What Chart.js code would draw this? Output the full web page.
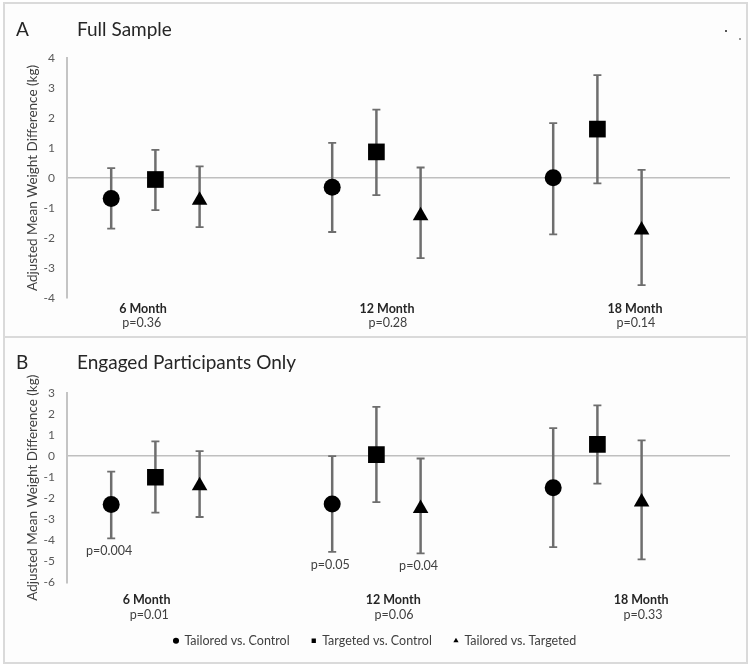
<!DOCTYPE html>
<html>
<head>
<meta charset="utf-8">
<script src="https://cdn.jsdelivr.net/npm/chart.js@4/dist/chart.umd.min.js"></script>
<style>
  html, body { margin: 0; padding: 0; background: #ffffff; }
  body { width: 750px; height: 665px; position: relative; overflow: hidden; font-family: Lato, "Open Sans", sans-serif; }
  .panel { position: absolute; left: 3px; width: 741px; border: 2px solid #dadada; background: #fdfdfd; box-sizing: content-box; }
  .ttl { position: absolute; font-size: 19px; color: #262626; line-height: 1; white-space: nowrap; }
  .dot { position: absolute; width: 2px; height: 2px; }
  canvas { position: absolute; left: 0; }
</style>
</head>
<body>
<div class="panel" style="top:2px;height:334px;"></div>
<div class="panel" style="top:336px;height:324px;"></div>
<div class="dot" style="left:725px;top:30px;background:#555;"></div>
<div class="dot" style="left:739px;top:38px;background:#999;"></div>
<canvas id="chartA" width="750" height="338" style="top:0px"></canvas>
<canvas id="chartB" width="750" height="327" style="top:338px"></canvas>
<div class="ttl" style="left:16px;top:19px;">A</div>
<div class="ttl" style="left:77px;top:19px;">Full Sample</div>
<div class="ttl" style="left:16px;top:352px;">B</div>
<div class="ttl" style="left:77px;top:352px;">Engaged Participants Only</div>
<script>
// ---------- data ----------
const categories = ['6 Month', '12 Month', '18 Month'];
const seriesNames = ['Tailored vs. Control', 'Targeted vs. Control', 'Tailored vs. Targeted'];

// Panel A: Full Sample
const pValuesA = ['p=0.36', 'p=0.28', 'p=0.14'];
const tailoredControlA      = [-0.68, -0.31, 0.01];
const tailoredControlA_lo   = [-1.69, -1.80, -1.88];
const tailoredControlA_hi   = [0.33, 1.17, 1.83];
const targetedControlA      = [-0.05, 0.87, 1.63];
const targetedControlA_lo   = [-1.07, -0.57, -0.18];
const targetedControlA_hi   = [0.94, 2.28, 3.43];
const tailoredTargetedA     = [-0.74, -1.26, -1.73];
const tailoredTargetedA_lo  = [-1.64, -2.67, -3.57];
const tailoredTargetedA_hi  = [0.39, 0.35, 0.27];

// Panel B: Engaged Participants Only
const pValuesB = ['p=0.01', 'p=0.06', 'p=0.33'];
const tailoredControlB      = [-2.30, -2.27, -1.50];
const tailoredControlB_lo   = [-3.90, -4.55, -4.32];
const tailoredControlB_hi   = [-0.73, 0.00, 1.33];
const targetedControlB      = [-1.00, 0.07, 0.56];
const targetedControlB_lo   = [-2.68, -2.18, -1.30];
const targetedControlB_hi   = [0.70, 2.34, 2.41];
const tailoredTargetedB     = [-1.41, -2.48, -2.18];
const tailoredTargetedB_lo  = [-2.89, -4.62, -4.90];
const tailoredTargetedB_hi  = [0.24, -0.11, 0.75];
// significant comparisons in panel B: [series index, category index, text]
const pointNotesB = [[0, 0, 'p=0.004'], [0, 1, 'p=0.05'], [2, 1, 'p=0.04']];

// y-axis tick ranges
const yTicksA = { min: -4, max: 4, step: 1 };
const yTicksB = { min: -6, max: 3, step: 1 };

// ---------- layout (positions in x-scale units) ----------
const catLabelXA = [1.72, 7.24, 12.85];
const pLabelXA   = [1.69, 7.26, 12.87];
const catLabelXB = [1.80, 7.38, 12.99];
const pLabelXB   = [1.86, 7.40, 13.03];

const FONT = 'Lato, "Open Sans", sans-serif';
const styles = [
  { pointStyle: 'circle',   radius: 8.5 },
  { pointStyle: 'rect',     radius: 11.8 },
  { pointStyle: 'triangle', radius: 9 }
];

function groupX(ci, si) { return 1 + 5 * ci + si; }

function buildDatasets(vals, los, his) {
  return vals.map((arr, si) => ({
    label: seriesNames[si],
    data: arr.map((v, ci) => ({ x: groupX(ci, si), y: v, lo: los[si][ci], hi: his[si][ci] })),
    showLine: false,
    pointStyle: styles[si].pointStyle,
    pointRadius: styles[si].radius,
    pointHoverRadius: styles[si].radius,
    backgroundColor: '#000000',
    borderColor: '#000000',
    borderWidth: 0
  }));
}

const errorBarPlugin = {
  id: 'errorBars',
  beforeDatasetsDraw(chart) {
    const { ctx, scales: { x, y } } = chart;
    ctx.save();
    ctx.strokeStyle = '#6e6e6e';
    chart.data.datasets.forEach(ds => {
      ds.data.forEach(pt => {
        const px = x.getPixelForValue(pt.x);
        const yl = y.getPixelForValue(pt.lo);
        const yh = y.getPixelForValue(pt.hi);
        ctx.lineWidth = 2.5;
        ctx.beginPath(); ctx.moveTo(px, yl); ctx.lineTo(px, yh); ctx.stroke();
        ctx.lineWidth = 1.8;
        ctx.beginPath();
        ctx.moveTo(px - 4, yl); ctx.lineTo(px + 4, yl);
        ctx.moveTo(px - 4, yh); ctx.lineTo(px + 4, yh);
        ctx.stroke();
      });
    });
    ctx.restore();
  }
};

function labelPlugin(catX, pX, pVals, catDy, pDy, notes) {
  return {
    id: 'catLabels',
    afterDraw(chart) {
      const { ctx, scales: { x, y }, chartArea } = chart;
      ctx.save();
      ctx.textAlign = 'center';
      ctx.textBaseline = 'middle';
      categories.forEach((c, i) => {
        ctx.font = 'bold 12.5px ' + FONT;
        ctx.fillStyle = '#262626';
        ctx.fillText(c, x.getPixelForValue(catX[i]), chartArea.bottom + catDy);
        ctx.font = '12.5px ' + FONT;
        ctx.fillStyle = '#404040';
        ctx.fillText(pVals[i], x.getPixelForValue(pX[i]), chartArea.bottom + pDy);
      });
      (notes || []).forEach(([si, ci, txt]) => {
        const pt = chart.data.datasets[si].data[ci];
        ctx.font = '12.5px ' + FONT;
        ctx.fillStyle = '#404040';
        ctx.fillText(txt, x.getPixelForValue(pt.x) - 2, y.getPixelForValue(pt.lo) + 12.5);
      });
      ctx.restore();
    }
  };
}

function makeOptions(ticks, pad, showLegend, xHeight) {
  return {
    responsive: false,
    animation: false,
    devicePixelRatio: 1,
    layout: { padding: pad },
    plugins: {
      legend: {
        display: showLegend,
        position: 'bottom',
        labels: {
          usePointStyle: true,
          boxWidth: 4.3,
          boxHeight: 4.3,
          padding: 22,
          color: '#404040',
          font: { family: FONT, size: 12.5 }
        }
      },
      tooltip: { enabled: false }
    },
    scales: {
      x: {
        type: 'linear',
        min: 0,
        max: 15,
        display: xHeight > 0,
        ticks: { display: false },
        grid: { display: false },
        border: { display: false },
        afterFit(s) { s.height = xHeight; }
      },
      y: {
        min: ticks.min,
        max: ticks.max,
        ticks: { stepSize: ticks.step, padding: 12, color: '#595959', font: { family: FONT, size: 12 } },
        grid: {
          drawTicks: false,
          lineWidth: 1.5,
          color: c => (c.tick && c.tick.value === 0) ? '#bfbfbf' : 'rgba(0,0,0,0)'
        },
        border: { display: true, color: '#c4c4c4', width: 2 },
        title: {
          display: true,
          text: 'Adjusted Mean Weight Difference (kg)',
          color: '#404040',
          font: { family: FONT, size: 13.5 },
          padding: { top: 5, bottom: 0 }
        },
        afterFit(s) { s.width = 47; }
      }
    }
  };
}

new Chart(document.getElementById('chartA'), {
  type: 'scatter',
  data: {
    datasets: buildDatasets(
      [tailoredControlA, targetedControlA, tailoredTargetedA],
      [tailoredControlA_lo, targetedControlA_lo, tailoredTargetedA_lo],
      [tailoredControlA_hi, targetedControlA_hi, tailoredTargetedA_hi])
  },
  options: makeOptions(yTicksA, { left: 20, right: 20, top: 58, bottom: 40 }, false, 0),
  plugins: [errorBarPlugin, labelPlugin(catLabelXA, pLabelXA, pValuesA, 10.5, 25, null)]
});

new Chart(document.getElementById('chartB'), {
  type: 'scatter',
  data: {
    datasets: buildDatasets(
      [tailoredControlB, targetedControlB, tailoredTargetedB],
      [tailoredControlB_lo, targetedControlB_lo, tailoredTargetedB_lo],
      [tailoredControlB_hi, targetedControlB_hi, tailoredTargetedB_hi])
  },
  options: makeOptions(yTicksB, { left: 20, right: 20, top: 55, bottom: 8 }, true, 30),
  plugins: [errorBarPlugin, labelPlugin(catLabelXB, pLabelXB, pValuesB, 17, 32, pointNotesB)]
});
</script>
</body>
</html>
